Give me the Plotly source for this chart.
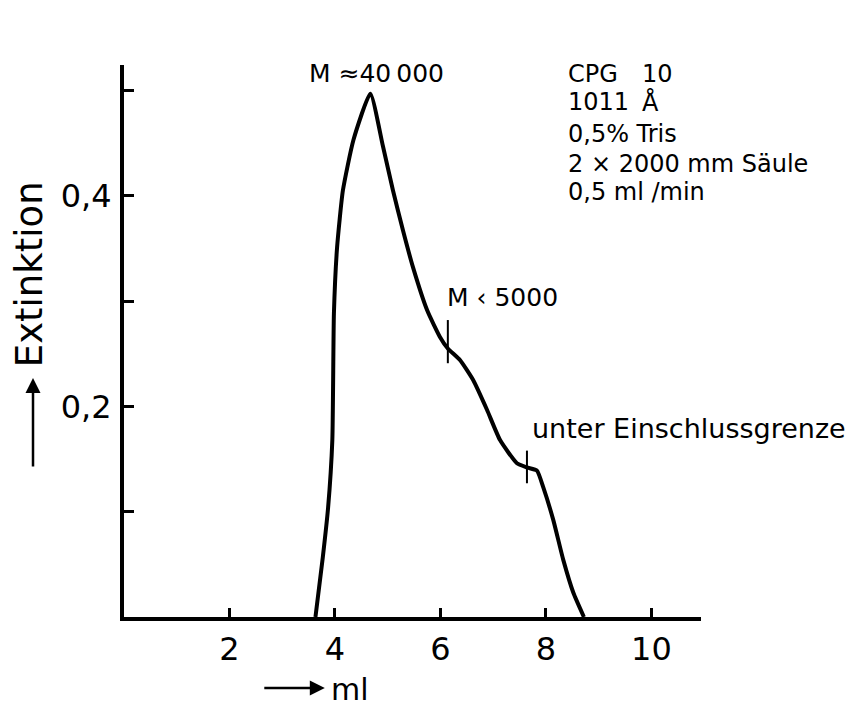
import plotly.graph_objects as go

# Elution volume (ml) and extinction
vol_ml = [3.63, 3.77, 3.87, 3.95, 3.98, 4.04, 4.15, 4.35, 4.67, 4.91, 5.10, 5.29,
          5.48, 5.75, 5.99, 6.14, 6.37, 6.62, 6.88, 7.13, 7.45, 7.64, 7.83, 7.95,
          8.14, 8.33, 8.52, 8.72]
extinktion = [0.0, 0.057, 0.104, 0.168, 0.288, 0.351, 0.405, 0.453, 0.497, 0.447,
              0.405, 0.367, 0.332, 0.291, 0.266, 0.255, 0.244, 0.225, 0.197, 0.168,
              0.146, 0.142, 0.139, 0.123, 0.092, 0.054, 0.023, 0.0]

# Vertical marker strokes on the curve
mark1_x = [6.14, 6.14]
mark1_y = [0.241, 0.282]
mark2_x = [7.64, 7.64]
mark2_y = [0.127, 0.158]

x_ticks = [2, 4, 6, 8, 10]
x_tick_labels = ["2", "4", "6", "8", "10"]
y_ticks = [0.1, 0.2, 0.3, 0.4, 0.5]
y_tick_labels = ["", "0,2", "", "0,4", ""]

info_lines = ["0,5% Tris", "2 × 2000 mm Säule", "0,5 ml /min"]
info_y = [0.4584, 0.4298, 0.4033]

FONT = "DejaVu Sans"

fig = go.Figure()
fig.add_trace(go.Scatter(x=vol_ml, y=extinktion, mode="lines",
                         line=dict(color="black", width=4, shape="spline", smoothing=0.5),
                         hoverinfo="skip", cliponaxis=False))
for mx, my in ((mark1_x, mark1_y), (mark2_x, mark2_y)):
    fig.add_trace(go.Scatter(x=mx, y=my, mode="lines",
                             line=dict(color="black", width=2), hoverinfo="skip"))

ann = []
def txt(x, y, s, size, xanchor="left"):
    ann.append(dict(x=x, y=y, xref="x", yref="y", text=s, showarrow=False,
                    xanchor=xanchor, yanchor="middle",
                    font=dict(family=FONT, size=size, color="black")))

txt(3.47, 0.516, "M ≈40\u2009000", 25)
txt(8.38, 0.516, "CPG", 24)
txt(9.79, 0.516, "10", 24)
txt(8.38, 0.4889, "1011", 24)
txt(9.79, 0.4889, "Å", 24)
for line, yy in zip(info_lines, info_y):
    txt(8.38, yy, line, 24)
txt(6.09, 0.3036, "M ‹ 5000", 25)
txt(7.70, 0.179, "unter Einschlussgrenze", 27)

# axis titles with arrows
ann.append(dict(x=-0.1646, y=0.621, xref="paper", yref="paper", text="Extinktion",
                textangle=-90, showarrow=False, xanchor="center", yanchor="middle",
                font=dict(family=FONT, size=37, color="black")))
ann.append(dict(x=-0.1577, y=0.433, xref="paper", yref="paper", text="",
                showarrow=True, ax=0, ay=90, arrowhead=2, arrowsize=1.2,
                arrowwidth=2.5, arrowcolor="black"))
ann.append(dict(x=0.348, y=-0.1286, xref="paper", yref="paper", text="",
                showarrow=True, ax=-62, ay=0, arrowhead=2, arrowsize=1.2,
                arrowwidth=2.5, arrowcolor="black"))
ann.append(dict(x=0.356, y=-0.132, xref="paper", yref="paper", text="ml",
                showarrow=False, xanchor="left", yanchor="middle",
                font=dict(family=FONT, size=30, color="black")))

fig.update_layout(
    width=859, height=708,
    margin=dict(l=124, r=158, t=65, b=91),
    paper_bgcolor="white", plot_bgcolor="white",
    showlegend=False,
    annotations=ann,
    xaxis=dict(range=[0, 10.94], showgrid=False, zeroline=False, showline=True,
               linecolor="black", linewidth=4, ticks="inside", ticklen=9,
               tickwidth=3, tickcolor="black", tickvals=x_ticks,
               ticktext=x_tick_labels, ticklabelstandoff=1,
               tickfont=dict(family=FONT, size=32, color="black")),
    yaxis=dict(range=[0, 0.5242], showgrid=False, zeroline=False, showline=True,
               linecolor="black", linewidth=4, ticks="inside", ticklen=10,
               tickwidth=3, tickcolor="black", tickvals=y_ticks,
               ticktext=y_tick_labels, ticklabelstandoff=2,
               tickfont=dict(family=FONT, size=32, color="black")),
)

fig.write_html("out.html")
